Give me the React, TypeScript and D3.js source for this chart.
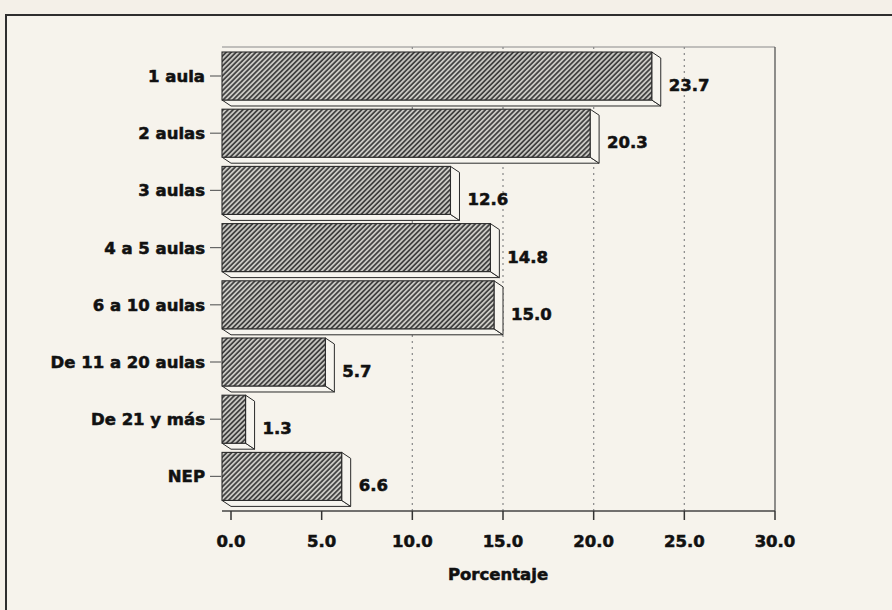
import React from "react";
import * as d3 from "d3";

const categories = [
  "1 aula",
  "2 aulas",
  "3 aulas",
  "4 a 5 aulas",
  "6 a 10 aulas",
  "De 11 a 20 aulas",
  "De 21 y más",
  "NEP",
];
const values = [23.7, 20.3, 12.6, 14.8, 15.0, 5.7, 1.3, 6.6];
const xTicks = [0, 5, 10, 15, 20, 25, 30];
const gridTicks = [10, 15, 20, 25];
const xTitle = "Porcentaje";

const W = 892;
const H = 610;
const FONT = "'DejaVu Sans', Verdana, sans-serif";
const textStyle = {
  fontFamily: FONT,
  fontWeight: "bold" as const,
  fontSize: 16.5,
  fill: "#111",
  stroke: "#111",
  strokeWidth: 0.55,
};

export default function App() {
  const x = d3.scaleLinear().domain([0, 30]).range([231, 775]);
  const y = d3
    .scaleBand<string>()
    .domain(categories)
    .range([50.4, 508])
    .paddingInner(0.056)
    .paddingOuter(0.028);
  const dx = 9;
  const dy = 6;
  const bw = y.bandwidth();
  const plotTop = 47;
  const plotBottom = 511;
  const plotLeft = x(0) - dx;
  const plotRight = x(30);
  const fmt = d3.format(".1f");

  return (
    <div style={{ position: "absolute", left: 0, top: 0 }}>
      <svg width={W} height={H} style={{ display: "block" }}>
        <defs>
          <pattern
            id="hatch"
            patternUnits="userSpaceOnUse"
            width={3.5}
            height={3.5}
            patternTransform="rotate(45)"
          >
            <rect width={3.5} height={3.5} fill="#c9c8c3" />
            <line x1={0.9} y1={0} x2={0.9} y2={3.5} stroke="#363636" strokeWidth={1.6} />
          </pattern>
        </defs>
        <rect x={0} y={0} width={W} height={H} fill="#f4f0e8" />
        <rect x={6} y={15} width={W} height={H} fill="#f6f3ec" />
        {/* outer frame */}
        <line x1={5} y1={15} x2={W} y2={15} stroke="#2e2e2e" strokeWidth={2} />
        <line x1={6} y1={15} x2={6} y2={H} stroke="#2e2e2e" strokeWidth={2} />

        {/* plot frame */}
        <line x1={plotLeft} y1={plotTop} x2={plotRight} y2={plotTop} stroke="#8a8a8a" strokeWidth={1.2} />
        <line x1={plotRight} y1={plotTop} x2={plotRight} y2={plotBottom} stroke="#555" strokeWidth={1.3} />

        {/* grid lines */}
        {gridTicks.map((t) => (
          <line
            key={"g" + t}
            x1={x(t)}
            x2={x(t)}
            y1={plotTop}
            y2={plotBottom}
            stroke="#8f8f8f"
            strokeWidth={1.3}
            strokeDasharray="2 4"
          />
        ))}

        {/* bars */}
        {categories.map((c, i) => {
          const v = values[i];
          const y0 = y(c) as number;
          const y1 = y0 + bw - dy;
          const x0 = x(0) - dx;
          const x1 = x(v) - dx;
          const side = `${x1},${y0} ${x1 + dx},${y0 + dy} ${x1 + dx},${y1 + dy} ${x1},${y1}`;
          const bottom = `${x0},${y1} ${x1},${y1} ${x1 + dx},${y1 + dy} ${x0 + dx},${y1 + dy}`;
          const cy = (y0 + y1) / 2;
          return (
            <g key={c}>
              <polygon points={bottom} fill="#f7f5ef" stroke="#2a2a2a" strokeWidth={1} strokeLinejoin="round" />
              <polygon points={side} fill="#f7f5ef" stroke="#2a2a2a" strokeWidth={1} strokeLinejoin="round" />
              <rect
                x={x0}
                y={y0}
                width={x1 - x0}
                height={y1 - y0}
                fill="url(#hatch)"
                stroke="#2a2a2a"
                strokeWidth={1.1}
              />
              {/* category tick and label */}
              <line x1={x0 - 12} x2={x0 - 1} y1={cy} y2={cy} stroke="#666" strokeWidth={1.2} />
              <text x={205} y={cy + 6} textAnchor="end" style={textStyle}>
                {c}
              </text>
              {/* value label */}
              <text x={x(v) + 8} y={y0 + 39} textAnchor="start" style={textStyle}>
                {fmt(v)}
              </text>
            </g>
          );
        })}

        {/* bottom axis */}
        <line x1={plotLeft} y1={plotBottom} x2={plotRight} y2={plotBottom} stroke="#444" strokeWidth={1.6} />
        {xTicks.map((t) => (
          <g key={"t" + t}>
            <line x1={x(t)} x2={x(t)} y1={plotBottom} y2={plotBottom + 9} stroke="#333" strokeWidth={1.5} />
            <text x={x(t)} y={547} textAnchor="middle" style={textStyle}>
              {fmt(t)}
            </text>
          </g>
        ))}
        <text x={(x(0) + x(30)) / 2 - 5} y={580} textAnchor="middle" style={textStyle}>
          {xTitle}
        </text>
      </svg>
    </div>
  );
}
